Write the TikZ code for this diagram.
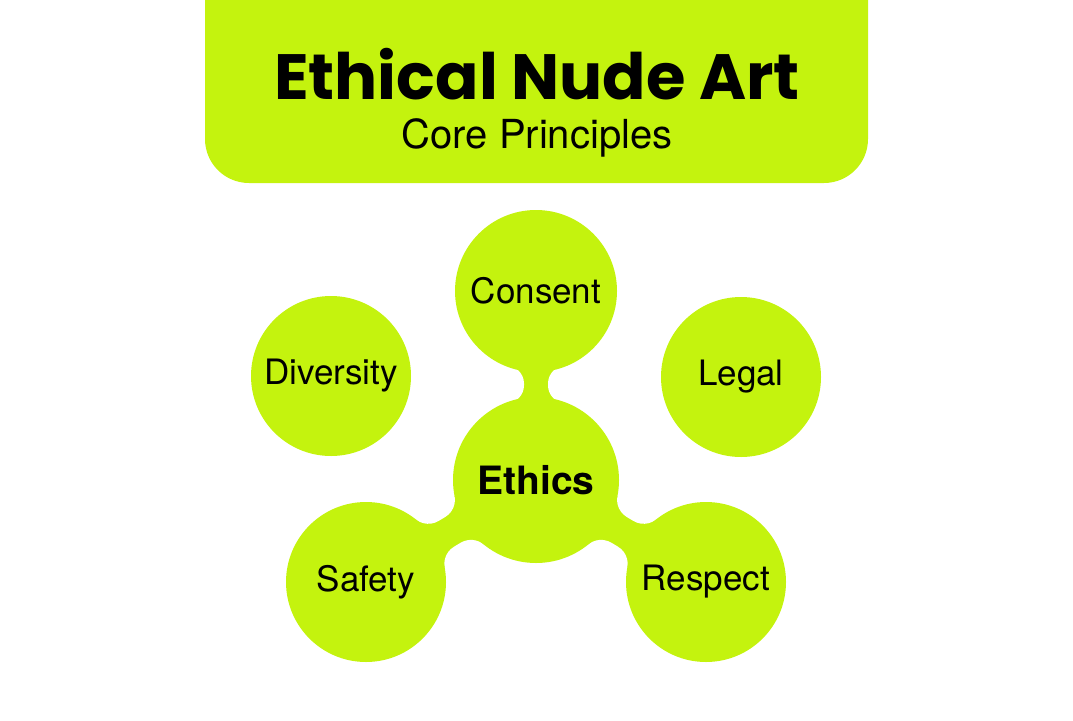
\documentclass[tikz,border=0pt]{standalone}
\usepackage{fontspec}
\setmainfont{TeX Gyre Heros}
\newfontfamily\titlefont{Poppins}
\usepackage{tikz}
\usetikzlibrary{calc}
\usetikzlibrary{backgrounds}
\definecolor{lime}{RGB}{196,243,14}

\tikzset{
  principle/.style={circle, fill=lime, minimum size=160pt, inner sep=0pt,
    font=\fontsize{35}{40}\selectfont},
  core/.style={principle, minimum size=166pt, font=\bfseries\fontsize{39}{44}\selectfont}
}

\begin{document}
\begin{tikzpicture}[x=1pt, y=-1pt]
\useasboundingbox (0,0) rectangle (1073,720);
%Header
\fill[lime, rounded corners=44pt] (205,-60) rectangle (868,183);
\node[inner sep=0pt] (title) at (537,74) {\titlefont\bfseries\fontsize{64}{70}\selectfont Ethical Nude Art};
\node[inner sep=0pt] (subtitle) at (537,138) {\fontsize{40}{44}\selectfont Core Principles};

%Principles
\node[core] (ethics) at (536,480) {Ethics};
\node[principle, minimum size=162pt] (consent) at (536,291) {Consent};
\foreach \n/\x/\y/\t in {diversity/331/376/Diversity, legal/741/377/Legal,
    safety/366/582/Safety, respect/706/582/Respect} {
  \node[principle] (\n) at (\x,\y) {\t};
}

%Necks: bar of width \w, filleted with radius \rf
\begin{scope}[on background layer]
  \foreach \a/\ra/\w/\rf in {consent/81/24/18, safety/80/30/20, respect/80/30/20} {
    \pgfmathsetmacro\h{\w/2+\rf}
    \pgfmathsetmacro\da{\ra+\rf}
    \pgfmathsetmacro\db{83+\rf}
    \pgfmathsetmacro\ta{asin(\h/\da)}
    \pgfmathsetmacro\tb{asin(\h/\db)}
    \pgfmathsetmacro\lw{2*\rf}
    \coordinate (fa1) at ($(\a.center)!\da pt!\ta:(ethics.center)$);
    \coordinate (fa2) at ($(\a.center)!\da pt!-\ta:(ethics.center)$);
    \coordinate (fb1) at ($(ethics.center)!\db pt!-\tb:(\a.center)$);
    \coordinate (fb2) at ($(ethics.center)!\db pt!\tb:(\a.center)$);
    \fill[lime] (\a.center) -- (fa1) -- (fb1) -- (ethics.center) -- (fb2) -- (fa2) -- cycle;
    \draw[white, line width=\lw pt, line cap=round] (fa1) -- (fb1) (fa2) -- (fb2);
  }
\end{scope}
\end{tikzpicture}
\end{document}
